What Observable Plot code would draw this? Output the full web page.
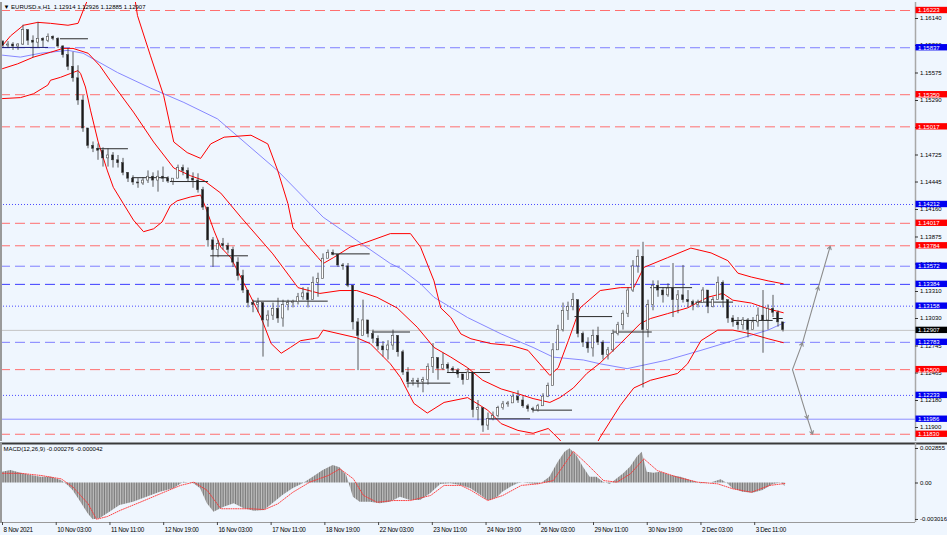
<!DOCTYPE html>
<html>
<head>
<meta charset="utf-8">
<script src="https://cdn.jsdelivr.net/npm/d3@7"></script>
<script src="https://cdn.jsdelivr.net/npm/@observablehq/plot@0.6"></script>
<style>
  body { margin: 0; background: #eff6fe; }
  #chart { width: 947px; height: 535px; line-height: 0; }
  #chart svg { display: block; }
  .tlab text { letter-spacing: -0.3px; }
</style>
</head>
<body>
<div id="chart"></div>
<script>
// ---- candles, sampled every ~3 hourly bars (one per 5px of the screenshot)
const firstOpen = 1.1590;
const highs = [1.1591,1.1590,1.1589,1.1588,1.1607,1.1600,1.1596,1.1610,1.1594,1.1598,
  1.1596,1.1594,1.1586,1.1583,1.1579,1.1565,1.1534,1.1500,1.1486,1.1484,
  1.1480,1.1479,1.1475,1.1472,1.1469,1.1454,1.1451,1.1448,1.1449,1.1456,
  1.1454,1.1456,1.1460,1.1450,1.1448,1.1462,1.1462,1.1459,1.1454,1.1453,
  1.1439,1.1418,1.1387,1.1384,1.1386,1.1381,1.1377,1.1366,1.1353,1.1332,
  1.1322,1.1324,1.1319,1.1311,1.1319,1.1324,1.1322,1.1322,1.1322,1.1329,
  1.1335,1.1335,1.1346,1.1350,1.1370,1.1374,1.1374,1.1368,1.1360,1.1360,
  1.1337,1.1303,1.1322,1.1299,1.1291,1.1285,1.1279,1.1280,1.1291,1.1285,
  1.1270,1.1252,1.1241,1.1241,1.1242,1.1256,1.1277,1.1262,1.1267,1.1257,
  1.1253,1.1251,1.1245,1.1251,1.1247,1.1218,1.1210,1.1205,1.1206,1.1212,
  1.1217,1.1217,1.1225,1.1228,1.1222,1.1214,1.1211,1.1214,1.1225,1.1236,
  1.1277,1.1296,1.1319,1.1320,1.1329,1.1322,1.1289,1.1283,1.1291,1.1294,
  1.1280,1.1273,1.1291,1.1299,1.1311,1.1335,1.1363,1.1374,1.1382,1.1322,
  1.1342,1.1342,1.1335,1.1339,1.1360,1.1332,1.1358,1.1332,1.1322,1.1322,
  1.1335,1.1332,1.1325,1.1346,1.1342,1.1322,1.1306,1.1304,1.1304,1.1303,
  1.1304,1.1314,1.1332,1.1317,1.1327,1.1311,1.1299];
const lows = [1.1584,1.1583,1.1581,1.1581,1.1586,1.1586,1.1573,1.1583,1.1584,1.1589,
  1.1591,1.1583,1.1573,1.1560,1.1548,1.1524,1.1496,1.1479,1.1475,1.1467,
  1.1460,1.1460,1.1459,1.1459,1.1451,1.1444,1.1441,1.1438,1.1441,1.1443,
  1.1439,1.1434,1.1444,1.1443,1.1441,1.1448,1.1451,1.1444,1.1438,1.1433,
  1.1415,1.1377,1.1356,1.1366,1.1374,1.1370,1.1356,1.1342,1.1329,1.1314,
  1.1309,1.1309,1.1263,1.1294,1.1301,1.1298,1.1294,1.1311,1.1314,1.1317,
  1.1322,1.1314,1.1332,1.1325,1.1346,1.1366,1.1368,1.1356,1.1353,1.1335,
  1.1291,1.1249,1.1294,1.1283,1.1277,1.1270,1.1263,1.1260,1.1270,1.1263,
  1.1244,1.1231,1.1233,1.1231,1.1226,1.1234,1.1246,1.1239,1.1249,1.1246,
  1.1246,1.1241,1.1234,1.1239,1.1200,1.1197,1.1185,1.1187,1.1197,1.1200,
  1.1208,1.1211,1.1215,1.1215,1.1210,1.1206,1.1205,1.1206,1.1212,1.1221,
  1.1233,1.1270,1.1289,1.1301,1.1311,1.1283,1.1273,1.1267,1.1263,1.1275,
  1.1260,1.1260,1.1268,1.1285,1.1291,1.1304,1.1330,1.1350,1.1231,1.1283,
  1.1311,1.1325,1.1319,1.1325,1.1304,1.1308,1.1319,1.1314,1.1311,1.1314,
  1.1319,1.1308,1.1314,1.1322,1.1314,1.1298,1.1294,1.1291,1.1291,1.1283,
  1.1291,1.1294,1.1267,1.1291,1.1304,1.1294,1.1289];
const closes = [1.1586,1.1587,1.1585,1.1587,1.1602,1.1591,1.1589,1.1593,1.1591,1.1595,
  1.1593,1.1585,1.1576,1.1564,1.1552,1.1529,1.1500,1.1482,1.1479,1.1477,
  1.1469,1.1472,1.1467,1.1464,1.1454,1.1448,1.1444,1.1443,1.1446,1.1450,
  1.1446,1.1450,1.1448,1.1445,1.1448,1.1459,1.1456,1.1448,1.1446,1.1436,
  1.1418,1.1384,1.1374,1.1380,1.1378,1.1374,1.1361,1.1347,1.1332,1.1319,
  1.1317,1.1319,1.1301,1.1306,1.1313,1.1303,1.1317,1.1319,1.1320,1.1325,
  1.1329,1.1322,1.1340,1.1344,1.1365,1.1371,1.1369,1.1358,1.1357,1.1337,
  1.1299,1.1285,1.1301,1.1287,1.1282,1.1274,1.1270,1.1275,1.1285,1.1268,
  1.1247,1.1237,1.1238,1.1237,1.1239,1.1253,1.1262,1.1251,1.1255,1.1251,
  1.1249,1.1245,1.1239,1.1247,1.1208,1.1210,1.1192,1.1199,1.1202,1.1210,
  1.1214,1.1215,1.1222,1.1218,1.1212,1.1209,1.1208,1.1212,1.1222,1.1233,
  1.1270,1.1291,1.1311,1.1315,1.1322,1.1287,1.1278,1.1272,1.1285,1.1278,
  1.1265,1.1270,1.1287,1.1296,1.1308,1.1332,1.1357,1.1367,1.1291,1.1317,
  1.1337,1.1332,1.1327,1.1334,1.1322,1.1327,1.1322,1.1320,1.1317,1.1319,
  1.1332,1.1315,1.1322,1.1340,1.1322,1.1303,1.1299,1.1296,1.1301,1.1291,
  1.1299,1.1306,1.1301,1.1313,1.1309,1.1299,1.1291];

// ---- indicators as [bar, value]
const upperBand = [[0,1.1586],[4.8,1.1596],[12.5,1.1607],[21,1.1610],[28.6,1.1609],[39,1.1607],[45,1.1609],
  [48,1.1622],[50.6,1.1633],[58,1.1665],[67,1.1679],[75,1.1658],[79,1.1633],[80.4,1.1617],[88,1.1576],
  [96,1.1534],[102,1.1486],[110,1.1475],[118,1.1469],[124,1.1484],[132,1.1491],[148,1.1493],[158,1.1484],
  [164,1.1456],[170,1.1422],[173,1.1397],[179,1.1384],[188,1.1366],[191,1.1360],[197,1.1366],[207,1.1377],
  [215,1.1381],[231,1.1391],[243,1.1391],[249,1.1377],[257,1.1342],[261,1.1314],[267,1.1304],[273,1.1287],
  [279,1.1282],[291,1.1277],[303,1.1275],[313,1.1270],[320,1.1256],[326,1.1244],[331,1.1252],[337,1.1280],
  [344,1.1314],[356,1.1332],[368,1.1335],[376,1.1335],[382,1.1356],[396,1.1366],[410,1.1376],[422,1.1371],
  [432,1.1363],[438,1.1350],[446,1.1346],[456,1.1342],[465,1.1339]];
const middleBand = [[0,1.1562],[9,1.1567],[18.5,1.1574],[28.6,1.1579],[36,1.1583],[42,1.1583],[51,1.1578],
  [58,1.1565],[64,1.1550],[78,1.1517],[90,1.1486],[102,1.1459],[112,1.1451],[120,1.1446],[130,1.1433],
  [142,1.1408],[161,1.1370],[176,1.1335],[189,1.1329],[201,1.1332],[211,1.1332],[223,1.1325],[235,1.1314],
  [247,1.1294],[257,1.1273],[267,1.1263],[277,1.1252],[286,1.1239],[297,1.1230],[307,1.1225],[316,1.1220],
  [326,1.1216],[332,1.1221],[340,1.1231],[348,1.1246],[356,1.1257],[368,1.1277],[380,1.1298],[386,1.1303],
  [396,1.1308],[408,1.1314],[420,1.1325],[429,1.1329],[435,1.1322],[446,1.1319],[456,1.1313],[465,1.1309]];
const lowerBand = [[0,1.1531],[10.7,1.1532],[18.5,1.1536],[27,1.1545],[28.6,1.1550],[34.5,1.1553],[40.5,1.1557],
  [45,1.1560],[46.5,1.1557],[49.4,1.1543],[52.4,1.1519],[57,1.1486],[62.5,1.1456],[66,1.1439],[72,1.1422],
  [78,1.1405],[84,1.1393],[90,1.1396],[95,1.1403],[100,1.1420],[104,1.1425],[112,1.1429],[118,1.1431],
  [121,1.1418],[126,1.1394],[130,1.1377],[136,1.1366],[146,1.1332],[154,1.1304],[160,1.1277],[166,1.1267],
  [171.5,1.1273],[177.5,1.1280],[188,1.1283],[191,1.1291],[201,1.1287],[211,1.1283],[219,1.1277],[231,1.1256],
  [237,1.1242],[245,1.1215],[253,1.1205],[263,1.1216],[277,1.1221],[289,1.1208],[297,1.1194],[307,1.1187],
  [316,1.1184],[325,1.1189],[328,1.1184],[332,1.1177],[341,1.1156],[350,1.1161],[356,1.1180],[368,1.1213],
  [376,1.1231],[386,1.1239],[402,1.1246],[408,1.1256],[416,1.1280],[426,1.1291],[435,1.1291],[446,1.1287],
  [456,1.1282],[465,1.1278]];
const movingAverage = [[0,1.1576],[10.7,1.1574],[22.6,1.1578],[39,1.1581],[48,1.1578],[68.5,1.1558],[88,1.1542],
  [108,1.1527],[128,1.1510],[136,1.1498],[164,1.1456],[191,1.1408],[211,1.1384],[231,1.1360],[237,1.1355],
  [249,1.1339],[257,1.1325],[277,1.1304],[297,1.1287],[316,1.1273],[328,1.1263],[346,1.1260],[356,1.1256],
  [372,1.1251],[396,1.1260],[416,1.1270],[435,1.1280],[456,1.1291],[466,1.1299]];

const macdHist = [[0,0.00089],[5,0.00103],[11,0.00081],[17,0.00062],[23,0.00048],[29,0.00048],[35,0.00020],
  [39,-0.00020],[42,-0.00062],[46,-0.00145],[51,-0.00255],[54,-0.00304],[58,-0.00296],[64,-0.00241],
  [70,-0.00186],[78,-0.00159],[86,-0.00117],[94,-0.00076],[102,-0.00048],[108,0.00007],[114,-0.00007],
  [118,-0.00048],[122,-0.00172],[126,-0.00241],[132,-0.00200],[138,-0.00172],[144,-0.00213],[150,-0.00233],
  [156,-0.00227],[161,-0.00172],[167,-0.00103],[173,-0.00048],[179,-0.00007],[185,0.00048],[191,0.00103],
  [197,0.00145],[201,0.00126],[205,0.00062],[209,-0.00117],[213,-0.00159],[219,-0.00159],[225,-0.00172],
  [231,-0.00159],[237,-0.00117],[243,-0.00145],[249,-0.00145],[255,-0.00089],[261,-0.00012],[267,-0.00007],
  [273,-0.00020],[279,-0.00048],[285,-0.00103],[289,-0.00145],[291,-0.00145],[295,-0.00117],[298,-0.00076],
  [303,-0.00034],[307,-0.00007],[310,0],[314,-0.00007],[319,-0.00012],[322,0.00007],[326,0.00048],
  [331,0.00172],[335,0.00255],[338,0.00283],[342,0.00227],[346,0.00131],[350,0.00048],[354,0.00048],
  [358,0.00007],[362,-0.00012],[366,0.00034],[370,0.00076],[374,0.00131],[378,0.00213],[381,0.00255],
  [384,0.00089],[388,0.00081],[392,0.00089],[398,0.00062],[404,0.00048],[410,0.00020],[416,-0.00007],
  [422,0],[428,0.00027],[432,-0.00007],[435,-0.00048],[441,-0.00076],[447,-0.00084],[453,-0.00062],
  [459,-0.00012],[464,0],[466,-0.00028]];
const macdSignal = [[0,0.0008],[11,0.0008],[23,0.00062],[35,0.00034],[42,-0.00034],[51,-0.00172],[56,-0.0030],
  [62.5,-0.00277],[70,-0.00227],[82,-0.00159],[94,-0.00089],[106,-0.0002],[114,0.00007],[122,-0.00062],
  [130,-0.00213],[138,-0.00213],[148,-0.00213],[156,-0.0022],[164,-0.00172],[173,-0.00076],[183,0.00007],
  [194,0.00062],[201,0.00117],[209,0.00034],[215,-0.00103],[223,-0.00159],[233,-0.00145],[243,-0.00145],
  [255,-0.00103],[263,-0.0002],[273,-0.0002],[279,-0.0006],[289,-0.00145],[298,-0.00103],[309,-0.0002],
  [319,-0.00007],[328,0.0002],[340,0.00262],[348,0.00158],[358,0.0002],[366,0.00007],[374,0.00076],
  [382,0.0020],[390,0.00103],[402,0.00048],[414,0.00007],[426,-0.00007],[435,-0.00048],[446,-0.00076],
  [457,-0.0002],[466,-0.00004]];

// ---- horizontal levels drawn on the chart
const redLevels = [1.16223, 1.15350, 1.15017, 1.14017, 1.13784, 1.12500, 1.11830];
const blueDashed = [1.15837, 1.13572, 1.12783];
const blueDashedDark = [1.13384];
const blueDotted = [1.14212, 1.13158, 1.12233];
const blueSolid = [1.11986];
const lastPrice = 1.12907;

// daily open segments
const pivotStart = [0, 34.5, 56.6, 77.4, 100, 124, 149.5, 197, 220.4, 241, 265, 289, 316, 341, 364, 386, 413, 435, 459];
const pivotEnd = [27.4, 51.2, 75, 99, 122.7, 146.5, 194, 219, 243, 267, 290.6, 314.5, 339.5, 363.4, 387, 411, 435.4, 459, 465];
const pivotPrice = [1.1584, 1.1593, 1.1479, 1.1449, 1.1445, 1.1368, 1.1321, 1.1370, 1.1289, 1.1236, 1.1247,
  1.1199, 1.1208, 1.1305, 1.1289, 1.1335, 1.1320, 1.1301, 1.1303];

// projection arrows
const arrowUpBars = [470.5, 476.5, 486, 493];
const arrowUpPrices = [1.1250, 1.1278, 1.1336, 1.1378];
const arrowDownBars = [470.5, 479.5, 482.5];
const arrowDownPrices = [1.1250, 1.1199, 1.1183];

// axes
const priceTicks = [1.16140, 1.15860, 1.15575, 1.15290, 1.15010, 1.14725, 1.14445, 1.14160,
  1.13875, 1.13595, 1.13310, 1.13030, 1.12745, 1.12465, 1.12180, 1.11900];
const macdTicks = [0.002855, 0, -0.003016];
const macdTickLabels = ["0.002855", "0.00", "-0.003016"];
const timeBars = [0, 32, 64, 96, 128, 160, 192, 224, 256, 288, 320, 352, 384, 416, 448];
const timeLabels = ["8 Nov 2021", "10 Nov 03:00", "11 Nov 11:00", "12 Nov 19:00", "16 Nov 03:00",
  "17 Nov 11:00", "18 Nov 19:00", "22 Nov 03:00", "23 Nov 11:00", "24 Nov 19:00", "26 Nov 03:00",
  "29 Nov 11:00", "30 Nov 19:00", "2 Dec 03:00", "3 Dec 11:00"];

const titleText = "\u25BC EURUSD.s,H1  1.12914 1.12926 1.12885 1.12907";
const macdTitle = "MACD(12,26,9) -0.000276 -0.000042";

// ---- layout helpers
const bg = "#eff6fe";
const pxPerBar = 1.679;
const bx = (px) => (px - 2) / pxPerBar; // screen px -> bar index
const xDomain = [bx(0), bx(947)];
const axisBar = bx(915);
const font = "Liberation Sans, Arial, sans-serif";

const candles = closes.map((c, k) => {
    const open = k ? closes[k - 1] : firstOpen;
    return {
        bar: bx(5 * k + 2.5),
        open,
        close: c,
        high: Math.max(highs[k], open, c),
        low: Math.min(lows[k], open, c),
    };
});

const pivots = pivotPrice.map((p, i) => ({x1: pivotStart[i], x2: pivotEnd[i], p, first: i === 0}));
const segs = (bars, prices) =>
    bars.slice(1).map((b, i) => ({x1: bars[i], y1: prices[i], x2: b, y2: prices[i + 1]}));

const levelLabels = [
    ...redLevels.map((p) => ({p, fill: "#ff0000"})),
    ...blueDashed.concat(blueDashedDark, blueDotted, blueSolid).map((p) => ({p, fill: "#0000f0"})),
    {p: lastPrice, fill: "#000000"},
];

const levelRule = (values, stroke, dash, width = 1) =>
    Plot.ruleY(values, {
        y: (d) => d, x1: xDomain[0], x2: axisBar,
        stroke, strokeDasharray: dash, strokeWidth: width,
    });

const bandLine = (data, stroke, width = 1) =>
    Plot.line(data, {x: (d) => d[0], y: (d) => d[1], stroke, strokeWidth: width, clip: true});

const boxHalf = 0.00033;

const pricePlot = Plot.plot({
    width: 947,
    height: 442,
    marginLeft: 0, marginRight: 0, marginTop: 2, marginBottom: 1,
    style: {background: bg, fontFamily: font, overflow: "visible"},
    x: {domain: xDomain, axis: null},
    y: {domain: [1.11755, 1.16306], axis: null},
    marks: [
        levelRule(redLevels, "#ff6f6f", "10,5"),
        levelRule(blueDashed, "#7f7fff", "10,5"),
        levelRule(blueDashedDark, "#3c3cff", "10,5"),
        levelRule(blueDotted, "#4a4aff", "1,2"),
        levelRule(blueSolid, "#9090ff"),
        levelRule([lastPrice], "#c4c4c4"),

        bandLine(movingAverage, "#7a7aff", 0.9),
        bandLine(upperBand, "#ff0000"),
        bandLine(middleBand, "#ff0000"),
        bandLine(lowerBand, "#ff0000"),

        Plot.ruleY(pivots, {
            y: "p", x1: "x1", x2: "x2",
            stroke: (d) => (d.first ? "#1c1c80" : "#2a2a2a"), strokeWidth: 1,
        }),

        Plot.ruleX(candles, {x: "bar", y1: "low", y2: "high", stroke: "#333", strokeWidth: 0.8}),
        Plot.rect(candles, {
            x1: (d) => d.bar - 0.55, x2: (d) => d.bar + 0.55,
            y1: "open", y2: "close",
            fill: (d) => (d.close >= d.open ? "#ffffff" : "#1a1a1a"),
            stroke: "#333", strokeWidth: 0.5,
        }),

        Plot.arrow(segs(arrowUpBars, arrowUpPrices), {
            x1: "x1", y1: "y1", x2: "x2", y2: "y2",
            stroke: "#8c8c8c", strokeWidth: 1.1, headLength: 5,
        }),
        Plot.arrow(segs(arrowDownBars, arrowDownPrices), {
            x1: "x1", y1: "y1", x2: "x2", y2: "y2",
            stroke: "#8c8c8c", strokeWidth: 1.1, headLength: 5,
        }),

        // right price axis
        Plot.ruleX([axisBar], {stroke: "#a8a8a8", strokeWidth: 1.5}),
        Plot.ruleY(priceTicks, {y: (d) => d, x1: axisBar, x2: bx(918), stroke: "#333"}),
        Plot.text(priceTicks, {
            x: bx(919.5), y: (d) => d, text: (d) => d.toFixed(5),
            textAnchor: "start", fontSize: 6, fill: "#000",
        }),
        Plot.rect(levelLabels, {
            x1: bx(915.5), x2: xDomain[1],
            y1: (d) => d.p - boxHalf, y2: (d) => d.p + boxHalf,
            fill: "fill",
        }),
        Plot.text(levelLabels, {
            x: bx(917.5), y: "p", text: (d) => d.p.toFixed(5),
            textAnchor: "start", fontSize: 6, fill: "#fff",
        }),

        Plot.text([titleText], {
            frameAnchor: "top-left", dx: 3, dy: 5, lineAnchor: "middle",
            textAnchor: "start", fontSize: 6, fill: "#000",
        }),
        Plot.ruleX([xDomain[0]], {stroke: "#9a9a9a", strokeWidth: 3}),
    ],
});

const macdTop = 0.003266;
const macdPlot = Plot.plot({
    width: 947,
    height: 93,
    marginLeft: 0, marginRight: 0, marginTop: 1, marginBottom: 13,
    style: {background: bg, fontFamily: font, overflow: "visible"},
    x: {domain: xDomain, axis: null},
    y: {domain: [-macdTop, macdTop], axis: null},
    marks: [
        Plot.areaY(macdHist, {x: (d) => d[0], y: (d) => d[1], fill: "url(#macdStripes)"}),
        Plot.line(macdSignal, {
            x: (d) => d[0], y: (d) => d[1],
            stroke: "#ff3030", strokeWidth: 0.9, strokeDasharray: "1,1.3",
        }),
        Plot.ruleY([macdTop], {x1: xDomain[0], x2: xDomain[1], stroke: "#3a3a3a", strokeWidth: 2}),
        Plot.ruleY([-macdTop], {x1: xDomain[0], x2: axisBar, stroke: "#9a9a9a"}),
        Plot.ruleX([axisBar], {stroke: "#a8a8a8", strokeWidth: 1.5}),
        Plot.ruleY(macdTicks, {y: (d) => d, x1: axisBar, x2: bx(918), stroke: "#333"}),
        Plot.text(macdTicks, {
            x: bx(919.5), y: (d) => d, text: (d, i) => macdTickLabels[i],
            textAnchor: "start", fontSize: 6, fill: "#000",
        }),
        Plot.text([macdTitle], {
            frameAnchor: "top-left", dx: 3, dy: 6, lineAnchor: "middle",
            textAnchor: "start", fontSize: 6, fill: "#000",
        }),
        Plot.ruleX(timeBars, {x: (d) => d, y1: -macdTop, y2: -macdTop - 0.00025, stroke: "#444"}),
        Plot.text(timeBars, {
            x: (d) => d, text: (d, i) => timeLabels[i],
            frameAnchor: "bottom", dy: 7, dx: 1, lineAnchor: "middle",
            textAnchor: "start", fontSize: 6.3, fill: "#000", className: "tlab",
        }),
        Plot.ruleX([xDomain[0]], {stroke: "#9a9a9a", strokeWidth: 3}),
    ],
});

// striped fill for the histogram, like the terminal's thin bars
const defs = d3.select(macdPlot).insert("defs", ":first-child");
const pat = defs.append("pattern")
    .attr("id", "macdStripes")
    .attr("patternUnits", "userSpaceOnUse")
    .attr("width", pxPerBar).attr("height", 4);
pat.append("rect").attr("width", pxPerBar).attr("height", 4).attr("fill", "#d2d2d2");
pat.append("rect").attr("width", 1).attr("height", 4).attr("fill", "#7a7a7a");

const div = document.querySelector("#chart");
div.append(pricePlot);
div.append(macdPlot);
</script>
</body>
</html>
